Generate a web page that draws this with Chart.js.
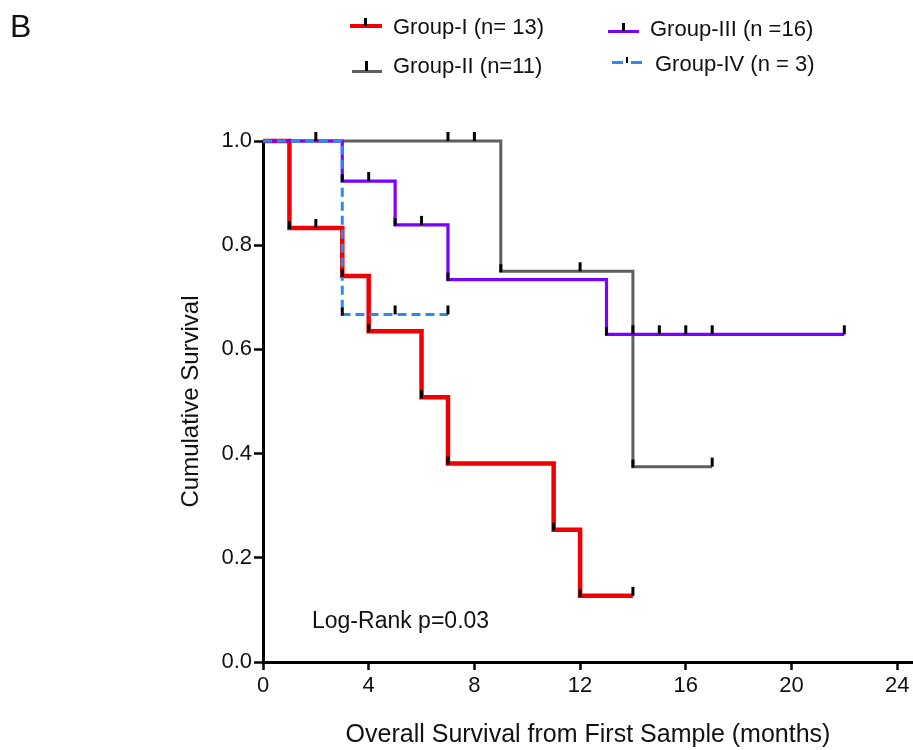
<!DOCTYPE html>
<html>
<head>
<meta charset="utf-8">
<script src="https://cdn.jsdelivr.net/npm/chart.js@4/dist/chart.umd.min.js"></script>
<style>
  html, body { margin:0; padding:0; background:#fff; }
  #wrap { position:relative; width:913px; height:750px; font-family:"Liberation Sans", Arial, Helvetica, sans-serif; color:#111; }
  #c { position:absolute; left:0; top:0; }
  .txt { position:absolute; white-space:nowrap; line-height:1; }
  .bar { position:absolute; }
  .tk { position:absolute; background:#000; }
</style>
</head>
<body>
<div id="wrap">
  <canvas id="c" width="913" height="750"></canvas>
  <div class="txt" style="left:10px;top:10px;font-size:32px;">B</div>

  <!-- legend -->
  <div class="bar" style="left:350px;top:24px;width:32px;height:4px;background:#f00000;"></div>
  <div class="tk" style="left:364px;top:18px;width:3px;height:8px;"></div>
  <div class="txt" style="left:393px;top:15.5px;font-size:22px;">Group-I (n= 13)</div>

  <div class="bar" style="left:352px;top:70px;width:30px;height:3px;background:#5f5f5f;"></div>
  <div class="tk" style="left:365px;top:61px;width:3px;height:10px;"></div>
  <div class="txt" style="left:393px;top:54.5px;font-size:22px;">Group-II (n=11)</div>

  <div class="bar" style="left:608px;top:30px;width:31px;height:3px;background:#7a00ff;"></div>
  <div class="tk" style="left:622px;top:23px;width:3px;height:8px;"></div>
  <div class="txt" style="left:650px;top:17.5px;font-size:22px;">Group-III (n =16)</div>

  <div class="bar" style="left:612px;top:61px;width:11px;height:3px;background:#2b8cf0;"></div>
  <div class="bar" style="left:631px;top:61px;width:11px;height:3px;background:#2b8cf0;"></div>
  <div class="tk" style="left:626px;top:57px;width:2px;height:6px;"></div>
  <div class="txt" style="left:655px;top:52.5px;font-size:22px;">Group-IV (n = 3)</div>

  <div class="txt" style="left:312px;top:609px;font-size:23px;">Log-Rank p=0.03</div>
</div>
<script>
// ---- data ----
const xTicks = [0, 4, 8, 12, 16, 20, 24];
const yTicks = [0.0, 0.2, 0.4, 0.6, 0.8, 1.0];

const g1Times  = [0, 1, 3, 4, 6, 7, 11, 12, 14];
const g1Surv   = [1, 0.833, 0.741, 0.635, 0.508, 0.381, 0.254, 0.127, 0.127];
const g1CensT  = [2, 14];
const g1CensS  = [0.833, 0.127];

const g2Times  = [0, 9, 14, 17];
const g2Surv   = [1, 0.75, 0.375, 0.375];
const g2CensT  = [2, 7, 8, 12, 17];
const g2CensS  = [1, 1, 1, 0.75, 0.375];

const g3Times  = [0, 3, 5, 7, 13, 22];
const g3Surv   = [1, 0.923, 0.839, 0.734, 0.629, 0.629];
const g3CensT  = [4, 6, 14, 15, 16, 17, 22];
const g3CensS  = [0.923, 0.839, 0.629, 0.629, 0.629, 0.629, 0.629];

const g4Times  = [0, 3, 7];
const g4Surv   = [1, 0.667, 0.667];
const g4CensT  = [5, 7];
const g4CensS  = [0.667, 0.667];

const labels = ['Group-I (n= 13)', 'Group-II (n=11)', 'Group-III (n =16)', 'Group-IV (n = 3)'];

// ---- build ----
const pts = (t, s) => t.map((v, i) => ({x: v, y: s[i]}));
const groups = [
  {times: g1Times, surv: g1Surv, ct: g1CensT, cs: g1CensS},
  {times: g2Times, surv: g2Surv, ct: g2CensT, cs: g2CensS},
  {times: g3Times, surv: g3Surv, ct: g3CensT, cs: g3CensS},
  {times: g4Times, surv: g4Surv, ct: g4CensT, cs: g4CensS}
];

const FONT = '"Liberation Sans", Arial, Helvetica, sans-serif';

const tickPlugin = {
  id: 'kmTicks',
  afterDatasetsDraw(chart) {
    const {ctx, scales: {x, y}} = chart;
    ctx.save();
    ctx.strokeStyle = '#000';
    ctx.lineCap = 'butt';
    groups.forEach(g => {
      ctx.lineWidth = 3;
      // event marks at the foot of each drop
      for (let i = 1; i < g.times.length; i++) {
        if (g.surv[i] < g.surv[i - 1]) {
          const px = x.getPixelForValue(g.times[i]);
          const py = y.getPixelForValue(g.surv[i]);
          ctx.beginPath(); ctx.moveTo(px, py + 1); ctx.lineTo(px, py - 7); ctx.stroke();
        }
      }
      // censor ticks
      g.ct.forEach((t, i) => {
        const px = x.getPixelForValue(t);
        const py = y.getPixelForValue(g.cs[i]);
        ctx.beginPath(); ctx.moveTo(px, py); ctx.lineTo(px, py - 9); ctx.stroke();
      });
    });
    ctx.restore();
  }
};

new Chart(document.getElementById('c'), {
  type: 'line',
  data: {
    datasets: [
      {label: labels[3], data: pts(g4Times, g4Surv), borderColor: '#2b8cf0', borderWidth: 3, borderDash: [9, 5], order: 0},
      {label: labels[2], data: pts(g3Times, g3Surv), borderColor: '#7a00ff', borderWidth: 3.2, order: 1},
      {label: labels[0], data: pts(g1Times, g1Surv), borderColor: '#f00000', borderWidth: 4.5, order: 2},
      {label: labels[1], data: pts(g2Times, g2Surv), borderColor: '#5f5f5f', borderWidth: 3, order: 3}
    ].map(d => Object.assign(d, {stepped: 'before', pointRadius: 0, fill: false, clip: false, tension: 0}))
  },
  options: {
    responsive: false,
    animation: false,
    layout: {padding: {left: 177, top: 141, right: 0, bottom: 0}},
    plugins: {legend: {display: false}, tooltip: {enabled: false}},
    scales: {
      x: {
        type: 'linear', min: 0, max: 24.6,
        afterBuildTicks: s => { s.ticks = xTicks.map(v => ({value: v})); },
        afterFit: s => { s.height = 88; },
        border: {display: true, color: '#000', width: 3},
        grid: {display: true, drawOnChartArea: false, drawTicks: true, tickLength: 8, tickWidth: 2.5, tickColor: '#000'},
        ticks: {color: '#111', font: {family: FONT, size: 22}, padding: 3, maxRotation: 0, callback: v => String(v)},
        title: {display: true, text: 'Overall Survival from First Sample (months)', color: '#111',
                font: {family: FONT, size: 25}, padding: {top: 0, bottom: 0}}
      },
      y: {
        type: 'linear', min: 0, max: 1,
        afterBuildTicks: s => { s.ticks = yTicks.map(v => ({value: v})); },
        afterFit: s => { s.width = 86; },
        border: {display: true, color: '#000', width: 3},
        grid: {display: true, drawOnChartArea: false, drawTicks: true, tickLength: 9, tickWidth: 2.5, tickColor: '#000'},
        ticks: {color: '#111', font: {family: FONT, size: 22}, padding: 2, callback: v => Number(v).toFixed(1)},
        title: {display: true, text: 'Cumulative Survival', color: '#111',
                font: {family: FONT, size: 24}, padding: {top: 0, bottom: 0}}
      }
    }
  },
  plugins: [tickPlugin]
});
</script>
</body>
</html>
